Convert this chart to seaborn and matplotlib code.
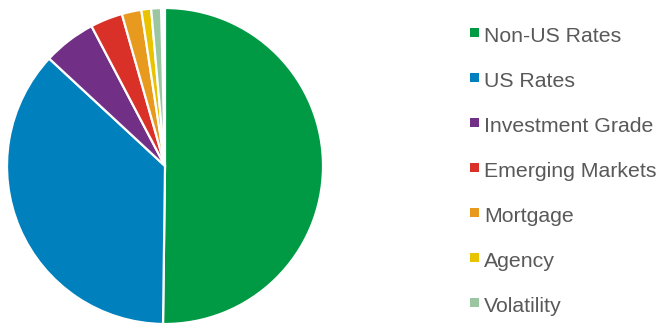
import matplotlib
matplotlib.use("Agg")
import matplotlib.pyplot as plt
from matplotlib.patches import Rectangle
import seaborn as sns
import pandas as pd

categories = ["Non-US Rates", "US Rates", "Investment Grade", "Emerging Markets",
              "Mortgage", "Agency", "Volatility"]
weights = [50.2, 36.7, 5.4, 3.3, 2.0, 1.0, 1.0]
colors = ["#009A44", "#0080BC", "#712F86", "#D93128", "#E89A1E", "#E9C200", "#9CC5A1"]

df = pd.DataFrame({"category": categories, "weight": weights})

sns.set_theme(style="white")
plt.rcParams["font.family"] = ["Liberation Sans", "DejaVu Sans"]
palette = sns.color_palette(colors)

W, H = 660, 324
fig = plt.figure(figsize=(W / 100, H / 100), dpi=100)
fig.patch.set_facecolor("white")

cx, cy, r = 165, 166, 158
ax = fig.add_axes([(cx - r) / W, (H - cy - r) / H, 2 * r / W, 2 * r / H])
ax.pie(df["weight"] / 100.0, colors=palette, startangle=90, counterclock=False,
       normalize=False, radius=1.0,
       wedgeprops=dict(edgecolor="white", linewidth=1.6))
ax.set_xlim(-1.0, 1.0)
ax.set_ylim(-1.0, 1.0)
ax.set_aspect("equal")
ax.axis("off")

# legend drawn manually
for i, (cat, col) in enumerate(zip(df["category"], palette)):
    base_y = 42.3 + 45 * i
    sq_y = 32.5 + 45 * i
    fig.add_artist(Rectangle(((470) / W, (H - sq_y - 4.5) / H), 9 / W, 9 / H,
                             transform=fig.transFigure, facecolor=col,
                             edgecolor="none"))
    fig.text(484 / W, (H - base_y) / H, cat, fontsize=15.3, color="#595959",
             ha="left", va="baseline")

fig.savefig("out.png", dpi=100, facecolor="white")
